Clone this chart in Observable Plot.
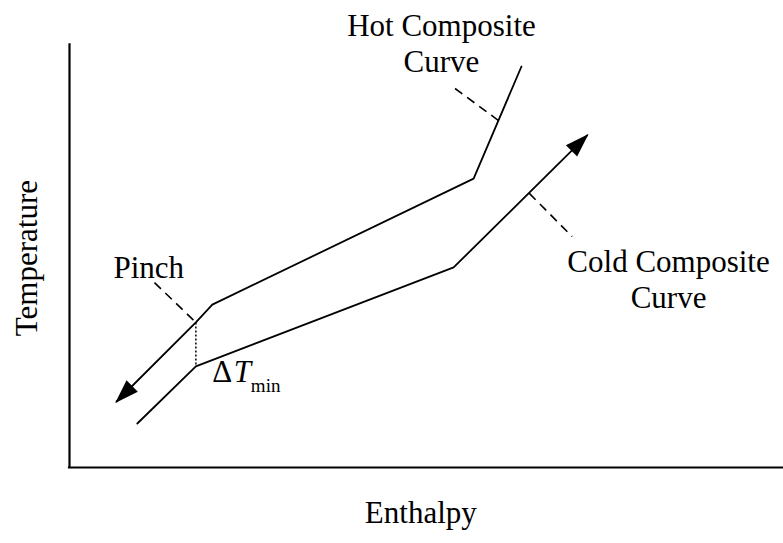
<!DOCTYPE html>
<html>
<head>
<meta charset="utf-8">
<script src="https://cdn.jsdelivr.net/npm/d3@7"></script>
<script src="https://cdn.jsdelivr.net/npm/@observablehq/plot@0.6"></script>
<style>
  html, body { margin: 0; padding: 0; background: #fff; }
  #chart { width: 783px; height: 543px; }
</style>
</head>
<body>
<div id="chart"></div>
<script>
// Hot composite curve (enthalpy, temperature), drawn from the top down to the arrow tip
const hotH = [63.3, 56.6, 20.0, 17.7, 6.6];
const hotT = [94.8, 68.3, 38.5, 34.3, 15.6];
// Cold composite curve, drawn from the bottom up to the arrow tip
const coldH = [9.5, 17.7, 53.8, 72.5];
const coldT = [10.4, 23.9, 47.3, 78.5];
// Dashed leader lines (from label toward curve)
const leaderH1 = [54.0, 64.4, 11.9];
const leaderT1 = [89.6, 64.8, 43.7];
const leaderH2 = [60.1, 70.4, 17.7];
const leaderT2 = [82.0, 54.6, 34.3];
// Pinch ΔTmin (dotted vertical)
const pinchH = [17.7];
const pinchHotT = [34.3];
const pinchColdT = [23.9];
// Annotation labels
const labelText = ["Hot Composite\nCurve", "Cold Composite\nCurve", "Pinch"];
const labelH = [52.1, 83.9, 11.1];
const labelT = [93.4, 37.6, 44.9];
// Axis titles
const xTitle = "Enthalpy";
const yTitle = "Temperature";

const FONT = "'Liberation Serif', 'Times New Roman', serif";
const idx = (a) => a.map((_, i) => i);

const arrowHead = (color, context) => {
  const m = d3.create("svg:marker")
    .attr("viewBox", "-26 -10 30 20")
    .attr("markerWidth", 30)
    .attr("markerHeight", 20)
    .attr("markerUnits", "userSpaceOnUse")
    .attr("orient", "auto")
    .attr("overflow", "visible")
    .attr("fill", "black")
    .attr("stroke", "none");
  m.append("path").attr("d", "M-22,-8L2,0L-22,8Z");
  return m.node();
};

const chart = Plot.plot({
  width: 783,
  height: 543,
  marginLeft: 69,
  marginRight: 0,
  marginTop: 44,
  marginBottom: 76,
  x: {domain: [0, 100], axis: null},
  y: {domain: [0, 100], axis: null},
  style: {fontFamily: FONT, background: "white", color: "black"},
  marks: [
    // axes
    Plot.ruleX([0], {y1: -0.2, y2: 100.2, stroke: "black", strokeWidth: 2.2}),
    Plot.ruleY([0], {x1: -0.15, x2: 100, stroke: "black", strokeWidth: 2.2}),
    // curves
    Plot.line(idx(hotH), {x: (i) => hotH[i], y: (i) => hotT[i], stroke: "black", strokeWidth: 1.8, markerEnd: arrowHead}),
    Plot.line(idx(coldH), {x: (i) => coldH[i], y: (i) => coldT[i], stroke: "black", strokeWidth: 1.8, markerEnd: arrowHead}),
    // dashed leaders
    Plot.link(idx(leaderH1), {
      x1: (i) => leaderH1[i], y1: (i) => leaderT1[i],
      x2: (i) => leaderH2[i], y2: (i) => leaderT2[i],
      stroke: "black", strokeWidth: 1.6, strokeDasharray: "9,6"
    }),
    // dotted ΔTmin
    Plot.link(idx(pinchH), {
      x1: (i) => pinchH[i], y1: (i) => pinchHotT[i],
      x2: (i) => pinchH[i], y2: (i) => pinchColdT[i],
      stroke: "black", strokeWidth: 1.5, strokeDasharray: "2,2"
    }),
    // labels
    Plot.text(idx(labelText), {
      x: (i) => labelH[i], y: (i) => labelT[i], text: (i) => labelText[i],
      textAnchor: "middle", lineAnchor: "bottom", lineHeight: 1.18,
      fontSize: 31, fill: "black"
    }),
    // ΔT_min
    Plot.text(["Δ"], {x: 20.0, y: 20.3, textAnchor: "start", lineAnchor: "bottom", fontSize: 31, fill: "black"}),
    Plot.text(["T"], {x: 23.0, y: 20.3, textAnchor: "start", lineAnchor: "bottom", fontSize: 31, fontStyle: "italic", fill: "black"}),
    Plot.text(["min"], {x: 25.4, y: 17.9, textAnchor: "start", lineAnchor: "bottom", fontSize: 19, fill: "black"}),
    // axis titles
    Plot.text([xTitle], {x: 49.2, y: -13.2, textAnchor: "middle", lineAnchor: "bottom", fontSize: 31, fill: "black"}),
    Plot.text([yTitle], {x: -4.6, y: 49.5, textAnchor: "middle", lineAnchor: "bottom", rotate: -90, fontSize: 31, fill: "black"})
  ]
});

document.getElementById("chart").appendChild(chart);
</script>
</body>
</html>
